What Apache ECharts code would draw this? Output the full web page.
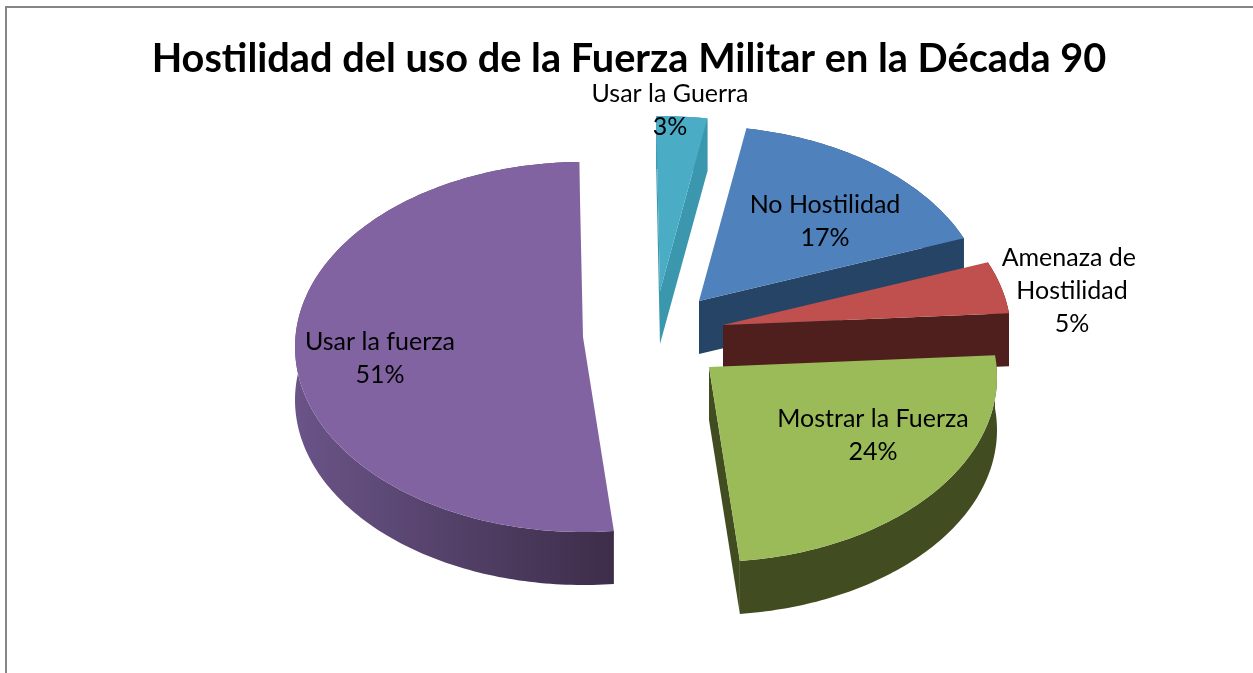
<!DOCTYPE html>
<html>
<head>
<meta charset="utf-8">
<style>html,body{margin:0;padding:0;background:#fff}#c{width:1253px;height:673px}</style>
<script src="https://cdn.jsdelivr.net/npm/echarts@6/dist/echarts.min.js"></script>
</head>
<body>
<div id="c"></div>
<script>
// Data (Excel order, clockwise from the start angle); labels show rounded percentages
const titleText = 'Hostilidad del uso de la Fuerza Militar en la Década 90';
const categories = ['No Hostilidad', 'Amenaza de Hostilidad', 'Mostrar la Fuerza', 'Usar la fuerza', 'Usar la Guerra'];
const percents = [16.6, 4.6, 24.4, 51.4, 3.0];

// Styles
const topColors = ['#4f81bd', '#c0504d', '#9bbb59', '#8263a1', '#4bacc6'];
const wallLeft = ['#264566', '#4f1f1d', '#414d20', '#6a5488', '#3b97ae'];
const wallRight = ['#264566', '#4f1f1d', '#414d20', '#3d2d49', '#3b97ae'];

// Layout of the exploded, tilted pie
const startAngle = 10, rx = 288, ry = 185, depth = 53, perspective = 0.054;
const apexX = [699, 723, 709, 583, 660];
const apexY = [301, 325, 367, 337, 291];
const labelX = [825, 1072, 873, 380, 670];
const labelY = [221, 291, 435, 358, 110];
const labelWidth = [300, 160, 300, 300, 300];
const labelFont = 'Lato, Carlito, sans-serif';

const total = percents.reduce((a, b) => a + b, 0);
const rad = d => d * Math.PI / 180;

function rimPoint(i, deg) {
  const s = Math.sin(rad(deg)), c = Math.cos(rad(deg));
  const t = -perspective * c + Math.sqrt(perspective * perspective * c * c + 1 - perspective * perspective);
  return [apexX[i] + rx * t * s, apexY[i] - ry * t * c];
}

function renderSlice(params, api) {
  const i = params.dataIndex;
  const val = api.value(0);
  let before = 0;
  for (let k = 0; k < i; k++) before += percents[k];
  const a0 = startAngle + before / total * 360;
  const a1 = a0 + val / total * 360;
  const rim = [];
  const n = Math.max(6, Math.round(a1 - a0));
  for (let k = 0; k <= n; k++) rim.push(rimPoint(i, a0 + (a1 - a0) * k / n));
  const apex = [apexX[i], apexY[i]];
  const shift = p => [p[0], p[1] + depth];
  const children = [];
  const wallFill = new echarts.graphic.LinearGradient(0, 0, 1, 0, [
    { offset: 0, color: wallLeft[i] }, { offset: 1, color: wallRight[i] }]);
  // outer wall
  children.push({ type: 'polygon', shape: { points: rim.concat(rim.slice().reverse().map(shift)) }, style: { fill: wallFill } });
  // radial faces turned towards the viewer
  const addFace = (deg, p, side) => {
    const normal = rad(deg + side * 90);
    if (-Math.cos(normal) > 0) {
      children.push({ type: 'polygon', shape: { points: [apex, p, shift(p), shift(apex)] }, style: { fill: wallRight[i] } });
    }
  };
  addFace(a0, rim[0], -1);
  addFace(a1, rim[n], 1);
  // top face
  children.push({ type: 'polygon', shape: { points: [apex].concat(rim) }, style: { fill: topColors[i] } });
  return { type: 'group', children };
}

function renderLabel(params, api) {
  const i = params.dataIndex;
  return {
    type: 'text', z2: 100,
    style: {
      x: labelX[i], y: labelY[i], text: categories[i] + '\n' + Math.round(api.value(0)) + '%',
      width: labelWidth[i], overflow: 'break', align: 'center', verticalAlign: 'middle',
      font: '25px ' + labelFont, lineHeight: 33, fill: '#000'
    }
  };
}

const chart = echarts.init(document.getElementById('c'), null, { renderer: 'canvas' });
chart.setOption({
  animation: false,
  backgroundColor: '#fff',
  title: {
    text: titleText, left: 624, top: 34, textAlign: 'center',
    textStyle: { fontFamily: labelFont, fontWeight: 'bold', fontSize: 39.7, color: '#000' }
  },
  graphic: [{
    type: 'rect', silent: true, z: -1,
    shape: { x: 6, y: 7, width: 1270, height: 720 },
    style: { fill: 'none', stroke: '#868686', lineWidth: 2 }
  }],
  series: [
    { type: 'custom', coordinateSystem: 'none', silent: true, renderItem: renderSlice, data: percents.map(v => [v]), z: 2 },
    { type: 'custom', coordinateSystem: 'none', silent: true, renderItem: renderLabel, data: percents.map(v => [v]), z: 3 }
  ]
});
</script>
</body>
</html>
